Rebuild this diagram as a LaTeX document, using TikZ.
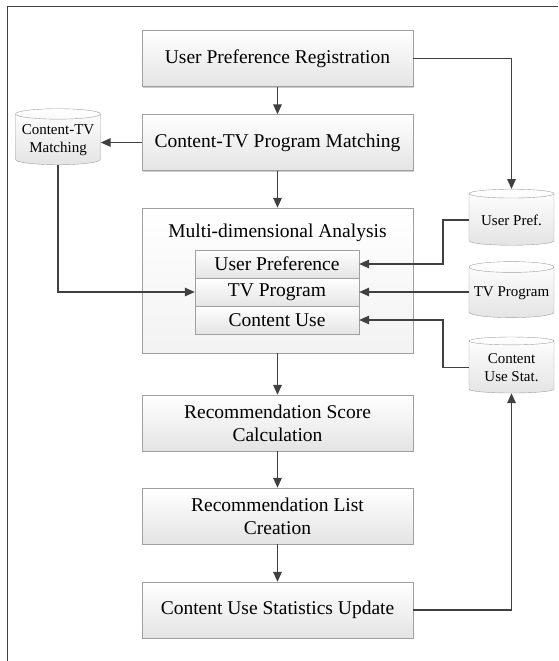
\documentclass[tikz,border=0pt]{standalone}
\usepackage{fontspec}
\setmainfont{Liberation Serif}
\usetikzlibrary{arrows.meta,shapes.geometric,shadows}
\definecolor{linegray}{HTML}{404040}
\definecolor{boxline}{HTML}{A0A0A0}
\definecolor{boxfill}{HTML}{E4E4E4}
\tikzset{
  procbox/.style={draw=boxline, top color=white, bottom color=boxfill,
    minimum width=271pt, minimum height=56pt, align=center,
    font=\fontsize{19.5}{23}\selectfont,
    drop shadow={shadow xshift=1.3pt, shadow yshift=-1.3pt, fill=black, opacity=0.2}},
  cellbox/.style={procbox, minimum width=164pt, minimum height=28pt, inner sep=0pt},
  store/.style={cylinder, shape border rotate=90, aspect=0.14, draw=boxline,
    top color=white, bottom color=boxfill, minimum width=85pt, minimum height=56pt,
    align=center, inner sep=1pt, font=\fontsize{15}{18}\selectfont},
  arr/.style={draw=linegray, line width=1.5pt, -{Triangle[length=10pt,width=8.5pt]}}
}
\begin{document}
\begin{tikzpicture}[x=1pt, y=-1pt]
  \useasboundingbox (0,0) rectangle (558,661);
  \draw[linegray, line width=1pt] (558,7) -- (7,7) -- (7,661);
  % main flow
  \node[procbox] (reg) at (277.5,58.5) {User Preference Registration};
  \node[procbox] (match) at (277.5,142.5) {Content-TV Program Matching};
  \node[procbox, minimum height=145pt, top color=white, bottom color=gray!10] (ana) at (277.5,280.5) {};
  \node[font=\fontsize{19.5}{23}\selectfont] (anat) at (277.5,233) {Multi-dimensional Analysis};
  \node[cellbox] (up) at (277,264) {User Preference};
  \node[cellbox] (tv) at (277,292) {TV Program};
  \node[cellbox] (cu) at (277,320) {Content Use};
  \node[procbox] (score) at (277.5,423) {Recommendation Score\\Calculation};
  \node[procbox] (list) at (277.5,516) {Recommendation List\\Creation};
  \node[procbox] (upd) at (277.5,610) {Content Use Statistics Update};
  % data stores
  \node[store] (ctm) at (58,140) {Content-TV\\Matching};
  \node[store] (upc) at (511.5,220) {User Pref.};
  \node[store] (tvc) at (511.5,293) {TV Program};
  \node[store] (cus) at (511.5,367.5) {Content\\Use Stat.};
  % connectors
  \draw[arr] (reg) -- (match);
  \draw[arr] (match) -- (ana);
  \draw[arr] (ana) -- (score);
  \draw[arr] (score) -- (list);
  \draw[arr] (list) -- (upd);
  \draw[arr] (match.west) -- (match.west -| ctm.east);
  \draw[arr] (ctm.south) |- (tv.west);
  \draw[arr] (reg.east) -| (upc.north);
  \draw[arr] (upc.west) -- ++(-26,0) |- (up.east);
  \draw[arr] (tvc.west |- tv.east) -- (tv.east);
  \draw[arr] (cus.west) -- ++(-26,0) |- (cu.east);
  \draw[arr] (upd.east) -| (cus.south);
\end{tikzpicture}
\end{document}
